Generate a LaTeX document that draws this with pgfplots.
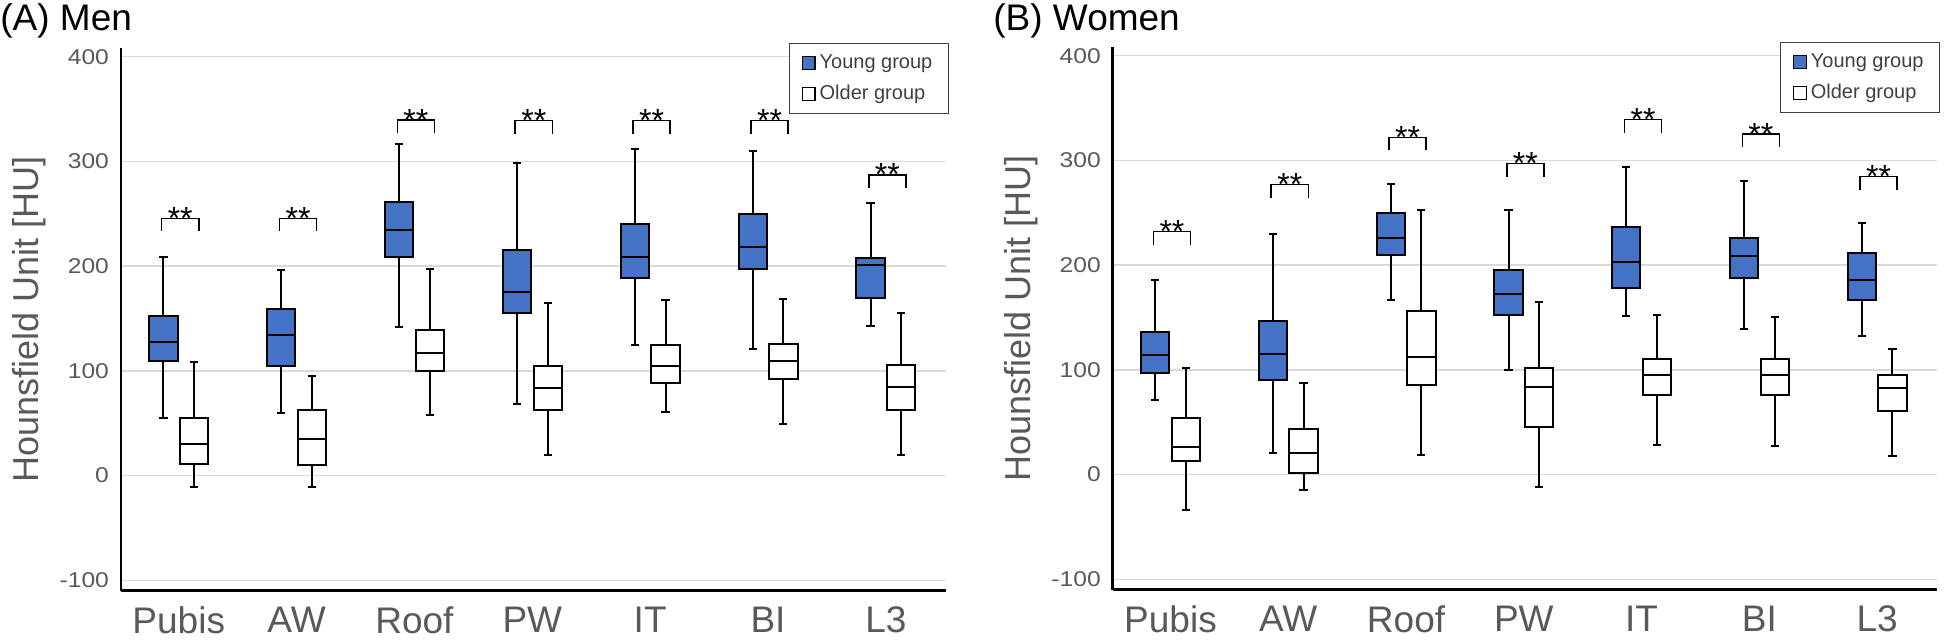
\documentclass[border=0pt]{standalone}
\usepackage{fontspec}
\setmainfont{Liberation Sans}
\newfontfamily\tickfont[FakeStretch=1.15]{Liberation Sans}
\usepackage{pgfplots}
\pgfplotsset{compat=1.18}
\definecolor{youngblue}{HTML}{4472C4}
\definecolor{txtgray}{HTML}{595959}
\definecolor{gridgray}{HTML}{D9D9D9}
\definecolor{legtxt}{HTML}{404040}

% box: fill colour, position, lower whisker, lower quartile, median, upper quartile, upper whisker
\newcommand{\bx}[7]{%
  \pgfmathsetmacro\bxL{#2-0.12}\pgfmathsetmacro\bxR{#2+0.12}%
  \pgfmathsetmacro\capL{#2-0.035}\pgfmathsetmacro\capR{#2+0.035}%
  \addplot[boxline] coordinates {(#2,#3) (#2,#4)};
  \addplot[boxline] coordinates {(#2,#6) (#2,#7)};
  \addplot[boxline] coordinates {(\capL,#3) (\capR,#3)};
  \addplot[boxline] coordinates {(\capL,#7) (\capR,#7)};
  \addplot[boxline, fill=#1] coordinates {(\bxL,#4) (\bxR,#4) (\bxR,#6) (\bxL,#6)} --cycle;
  \addplot[boxline] coordinates {(\bxL,#5) (\bxR,#5)};
}
% significance bracket: left x, right x, top y
\newcommand{\br}[3]{%
  \pgfmathsetmacro\brB{#3-12.5}\pgfmathsetmacro\brM{(#1+#2)/2}\pgfmathsetmacro\brS{#3-10.5}%
  \addplot[boxline, line width=0.8pt] coordinates {(#1,\brB) (#1,#3) (#2,#3) (#2,\brB)};
  \edef\brNode{\noexpand\node[starnode] at (axis cs:\brM,\brS) {**};}\brNode
}

\pgfplotsset{
  hustyle/.style={
    scale only axis, width=412.5pt, height=271.2pt,
    xmin=-0.49, xmax=6.51, ymin=-110, ymax=408,
    axis x line*=bottom, axis y line*=left,
    axis line style={-, line width=1.35pt, black},
    xtick={0,...,6}, xticklabels={Pubis,AW,Roof,PW,IT,BI,L3},
    ytick={-100,0,100,200,300,400}, yticklabels={-100,0,100,200,300,400},
    major tick length=0pt,
    ymajorgrids, grid style={gridgray, line width=0.7pt},
    xticklabel style={font=\fontsize{18.5}{20}\selectfont, text=txtgray, yshift=-4.5pt},
    yticklabel style={font=\tickfont\fontsize{10.7}{12}\selectfont, text=txtgray, xshift=-2.5pt},
    ylabel={Hounsfield Unit [HU]},
    ylabel style={font=\fontsize{18}{20}\selectfont, text=txtgray, at={(axis description cs:-0.1115,0.5)}, anchor=center},
    legend style={at={(1.0036,1.0098)}, anchor=north east, draw=black!75, line width=0.6pt,
      font=\fontsize{10}{12}\selectfont, text=legtxt, fill=white, row sep=3pt, inner xsep=6pt, inner ysep=3.5pt},
    legend cell align=left,
    clip=false,
  },
  boxline/.style={black, line width=1pt, mark=none, forget plot},
}
\tikzset{starnode/.style={anchor=base, font=\fontsize{16}{16}\selectfont, inner sep=0pt}}

\begin{document}
\begin{tikzpicture}
\useasboundingbox (0,0) rectangle (972pt,319.5pt);
\node[anchor=base west, font=\fontsize{18.5}{20}\selectfont, inner sep=0pt] at (0pt,304pt) {(A) Men};
\node[anchor=base west, font=\fontsize{18.5}{20}\selectfont, inner sep=0pt] at (496.5pt,304pt) {(B) Women};

\begin{axis}[hustyle, at={(60.5pt,24.15pt)}, anchor=south west]
\addlegendimage{legend image code/.code={\draw[fill=youngblue, draw=black, line width=0.6pt] (0pt,-3.2pt) rectangle (6.4pt,3.2pt);}}
\addlegendentry{Young group}
\addlegendimage{legend image code/.code={\draw[fill=white, draw=black, line width=0.6pt] (0pt,-3.2pt) rectangle (6.4pt,3.2pt);}}
\addlegendentry{Older group}
% Young (men)
\bx{youngblue}{-0.13}{55}{109}{127.5}{152}{209}
\bx{youngblue}{0.87}{60}{105}{134}{159}{196.5}
\bx{youngblue}{1.87}{141.5}{209}{234.7}{261.6}{317}
\bx{youngblue}{2.87}{68}{154.8}{175}{215.6}{298}
\bx{youngblue}{3.87}{125}{189}{209}{240.6}{312}
\bx{youngblue}{4.87}{121}{197}{218}{249.5}{309.5}
\bx{youngblue}{5.87}{142.7}{170}{201}{208}{260}
% Older (men)
\bx{white}{0.13}{-11}{11}{30}{55}{108}
\bx{white}{1.13}{-11}{10}{35}{63}{95}
\bx{white}{2.13}{58}{99.8}{116.6}{139}{197}
\bx{white}{3.13}{20}{62.4}{83.4}{104.5}{165}
\bx{white}{4.13}{61}{88}{105}{124.8}{168}
\bx{white}{5.13}{49.5}{92}{109}{126}{169}
\bx{white}{6.13}{19.5}{63}{85}{106}{155}
\br{-0.145}{0.17}{245.6}
\br{0.855}{1.17}{245.6}
\br{1.855}{2.17}{339.5}
\br{2.855}{3.17}{339}
\br{3.855}{4.17}{339}
\br{4.855}{5.17}{339}
\br{5.855}{6.17}{287}
\end{axis}

\begin{axis}[hustyle, at={(556.4pt,24.65pt)}, anchor=south west, width=412.2pt]
\addlegendimage{legend image code/.code={\draw[fill=youngblue, draw=black, line width=0.6pt] (0pt,-3.2pt) rectangle (6.4pt,3.2pt);}}
\addlegendentry{Young group}
\addlegendimage{legend image code/.code={\draw[fill=white, draw=black, line width=0.6pt] (0pt,-3.2pt) rectangle (6.4pt,3.2pt);}}
\addlegendentry{Older group}
% Young (women)
\bx{youngblue}{-0.13}{71.2}{96.7}{114}{135.8}{186}
\bx{youngblue}{0.87}{21}{90}{115}{146.4}{230}
\bx{youngblue}{1.87}{166.7}{209.4}{226}{250}{277.8}
\bx{youngblue}{2.87}{100.2}{152.6}{172}{195.7}{252.8}
\bx{youngblue}{3.87}{151.4}{178}{202.7}{236.7}{293.4}
\bx{youngblue}{4.87}{138.5}{188}{209}{226}{280.5}
\bx{youngblue}{5.87}{132}{167}{186}{211.7}{240.6}
% Older (women)
\bx{white}{0.13}{-34}{12.6}{26.3}{54}{101.4}
\bx{white}{1.13}{-14.4}{1.2}{20.8}{43.9}{87.3}
\bx{white}{2.13}{18.8}{85.3}{112}{155.8}{252.4}
\bx{white}{3.13}{-12}{45.4}{83.8}{101.8}{164.8}
\bx{white}{4.13}{27.8}{76.3}{95}{110}{152.2}
\bx{white}{5.13}{27}{75.6}{94.7}{110}{150}
\bx{white}{6.13}{18}{60.3}{82.6}{95}{119.4}
\br{-0.145}{0.17}{232}
\br{0.855}{1.17}{277}
\br{1.855}{2.17}{322}
\br{2.855}{3.17}{297}
\br{3.855}{4.17}{339}
\br{4.855}{5.17}{325}
\br{5.855}{6.17}{284.5}
\end{axis}
\end{tikzpicture}
\end{document}
